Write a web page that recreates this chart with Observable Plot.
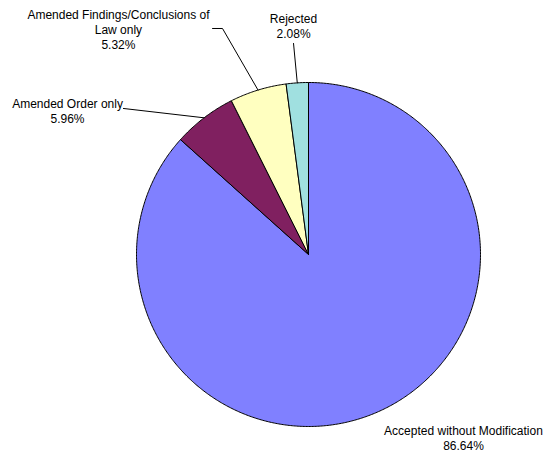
<!DOCTYPE html>
<html><head><meta charset="utf-8">
<script src="https://cdn.jsdelivr.net/npm/d3@7"></script>
<script src="https://cdn.jsdelivr.net/npm/@observablehq/plot@0.6"></script>
<style>html,body{margin:0;padding:0;background:#fff} svg{display:block}</style>
</head><body><div id="chart"></div>
<script>
// ---- data ----
const categories = ["Accepted without Modification", "Amended Order only", "Amended Findings/Conclusions of Law only", "Rejected"];
const labelTexts = ["Accepted without Modification", "Amended Order only", "Amended Findings/Conclusions of\nLaw only", "Rejected"];
const values = [86.64, 5.96, 5.32, 2.08];
const valueLabels = ["86.64%", "5.96%", "5.32%", "2.08%"];
const colors = ["#8080FF", "#802060", "#FFFFC0", "#A0E0E0"];

// ---- layout (unit-radius coordinates) ----
const labelPos = [[0.901, -1.067], [-1.401, 0.834], [-1.105, 1.308], [-0.087, 1.328]];
const leaderElbows = [null, [[-1.076, 0.849]], [[-0.558, 1.314], [-0.5, 1.314]], [[-0.087, 1.227]]];

// ---- derived geometry (clockwise from 12 o'clock) ----
const total = d3.sum(values);
const cum = d3.cumsum(values);
const slices = values.map((v, i) => {
  const a0 = (i === 0 ? 0 : cum[i - 1]) / total * 2 * Math.PI;
  const a1 = cum[i] / total * 2 * Math.PI;
  return {name: categories[i], a0, a1, mid: (a0 + a1) / 2};
});
const slicePts = [];
for (const s of slices) {
  slicePts.push({name: s.name, x: 0, y: 0});
  const n = Math.max(2, Math.ceil((s.a1 - s.a0) / (Math.PI / 360)));
  for (let k = 0; k <= n; k++) {
    const a = s.a0 + (s.a1 - s.a0) * k / n;
    slicePts.push({name: s.name, x: Math.sin(a), y: Math.cos(a)});
  }
  slicePts.push({name: s.name, x: 0, y: 0});
}
const leaderPts = [];
slices.forEach((s, i) => {
  if (!leaderElbows[i]) return;
  for (const [x, y] of leaderElbows[i]) leaderPts.push({name: s.name, x, y});
  leaderPts.push({name: s.name, x: Math.sin(s.mid), y: Math.cos(s.mid)});
});
const labelData = categories.map((c, i) => ({
  name: c, x: labelPos[i][0], y: labelPos[i][1], text: labelTexts[i] + "\n" + valueLabels[i]
}));

const chart = Plot.plot({
  width: 545, height: 460, margin: 0,
  x: {domain: [-1, 1], range: [136, 480], axis: null},
  y: {domain: [-1, 1], range: [426, 82], axis: null},
  color: {domain: categories, range: colors},
  style: {fontFamily: "'Liberation Sans', Arial, sans-serif", background: "#fff"},
  marks: [
    Plot.line(slicePts, {x: "x", y: "y", z: "name", fill: "name", stroke: "black", strokeWidth: 1, strokeLinejoin: "miter"}),
    Plot.line(leaderPts, {x: "x", y: "y", z: "name", stroke: "black", strokeWidth: 1}),
    Plot.text(labelData, {x: "x", y: "y", text: "text", fontSize: 12, lineHeight: 1.25, textAnchor: "middle", fill: "black"})
  ]
});
document.getElementById("chart").append(chart);
</script>
</body></html>
